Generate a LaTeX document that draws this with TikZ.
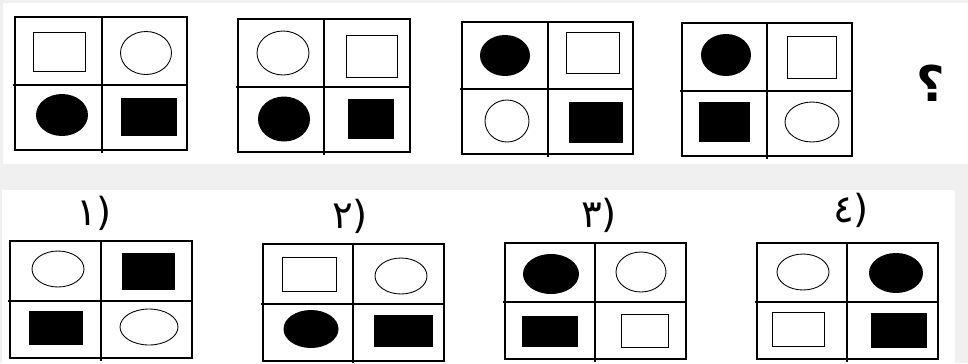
\documentclass[tikz,border=0pt]{standalone}
\usepackage{fontspec}
\newfontfamily\arabicfont[Script=Arabic]{DejaVu Sans}
\TeXXeTstate=1
\definecolor{bggrey}{HTML}{F0F0F0}

\begin{document}
\begin{tikzpicture}[x=0.02cm,y=-0.02cm,
  gridline/.style={line width=0.8pt},
  openshape/.style={draw,line width=0.5pt},
  solidshape/.style={fill=black},
  optlabel/.style={font=\arabicfont\fontsize{22}{24}\selectfont,inner sep=0pt}]
\useasboundingbox (0,0) rectangle (968,363);
\fill[bggrey] (0,0) rectangle (968,363);
\fill[white] (3,3) rectangle (968,164);
\fill[white] (2,190) rectangle (955,363);

% the sequence
\draw[gridline] (15,17) rectangle (187,150);
\draw[gridline] (13,85)--(187,85) (102,17)--(102,153);
\draw[openshape] (33,32) rectangle (85,71);
\draw[openshape] (146,53) ellipse [x radius=25.5, y radius=21.5];
\fill[solidshape] (62,115) ellipse [x radius=26, y radius=21];
\fill[solidshape] (121,98) rectangle (177,136);

\draw[gridline] (238,19) rectangle (410,152);
\draw[gridline] (236,87)--(410,87) (324,19)--(324,155);
\draw[openshape] (283,53) ellipse [x radius=26, y radius=22];
\draw[openshape] (346,35) rectangle (397,77);
\fill[solidshape] (284,119) ellipse [x radius=26, y radius=22.5];
\fill[solidshape] (348,99) rectangle (394,139);

\draw[gridline] (462,22) rectangle (633,154);
\draw[gridline] (460,89)--(633,89) (548,22)--(548,157);
\fill[solidshape] (505,55.5) ellipse [x radius=25, y radius=20.5];
\draw[openshape] (566,32) rectangle (619,73);
\draw[openshape] (507,121) ellipse [x radius=22, y radius=21];
\fill[solidshape] (569,102) rectangle (623,143);

\draw[gridline] (682,23) rectangle (852,156);
\draw[gridline] (680,91)--(852,91) (767,23)--(767,159);
\fill[solidshape] (726,55) ellipse [x radius=25, y radius=21];
\draw[openshape] (787,36) rectangle (836,78);
\fill[solidshape] (699,102) rectangle (750,142);
\draw[openshape] (812,122) ellipse [x radius=27, y radius=20];

\node[font=\arabicfont\bfseries\fontsize{28}{30}\selectfont,inner sep=0pt] (qmark) at (931,83) {\beginR ؟\endR};

% the answers
\node[optlabel] (lbla) at (94,213) {\beginR(١\endR};
\draw[gridline] (10,241) rectangle (192,358);
\draw[gridline] (8,301)--(192,301) (101,241)--(101,361);
\draw[openshape] (58,269) ellipse [x radius=26, y radius=18];
\fill[solidshape] (122,253) rectangle (175,290);
\fill[solidshape] (29,311) rectangle (83,345);
\draw[openshape] (149,327) ellipse [x radius=29, y radius=18];

\node[optlabel] (lblb) at (350,216) {\beginR(٢\endR};
\draw[gridline] (263,244) rectangle (444,361);
\draw[gridline] (261,304)--(444,304) (353,244)--(353,363);
\draw[openshape] (282,257) rectangle (336,291);
\draw[openshape] (401,276) ellipse [x radius=26, y radius=18];
\fill[solidshape] (311,329) ellipse [x radius=27.5, y radius=19];
\fill[solidshape] (374,315) rectangle (433,347);

\node[optlabel] (lblc) at (599,215) {\beginR(٣\endR};
\draw[gridline] (505,243) rectangle (686,359);
\draw[gridline] (503,302)--(686,302) (595,243)--(595,362);
\fill[solidshape] (551,274) ellipse [x radius=28, y radius=20];
\draw[openshape] (641,272) ellipse [x radius=25, y radius=20];
\fill[solidshape] (522,316) rectangle (578,347);
\draw[openshape] (621,314) rectangle (668,347);

\node[optlabel] (lbld) at (851,210) {\beginR(٤\endR};
\draw[gridline] (757,243) rectangle (938,359);
\draw[gridline] (755,302)--(938,302) (847,243)--(847,362);
\draw[openshape] (803,272) ellipse [x radius=26, y radius=18];
\fill[solidshape] (896,273) ellipse [x radius=27, y radius=20];
\draw[openshape] (772,312) rectangle (824,346);
\fill[solidshape] (871,313) rectangle (927,348);
\end{tikzpicture}
\end{document}
